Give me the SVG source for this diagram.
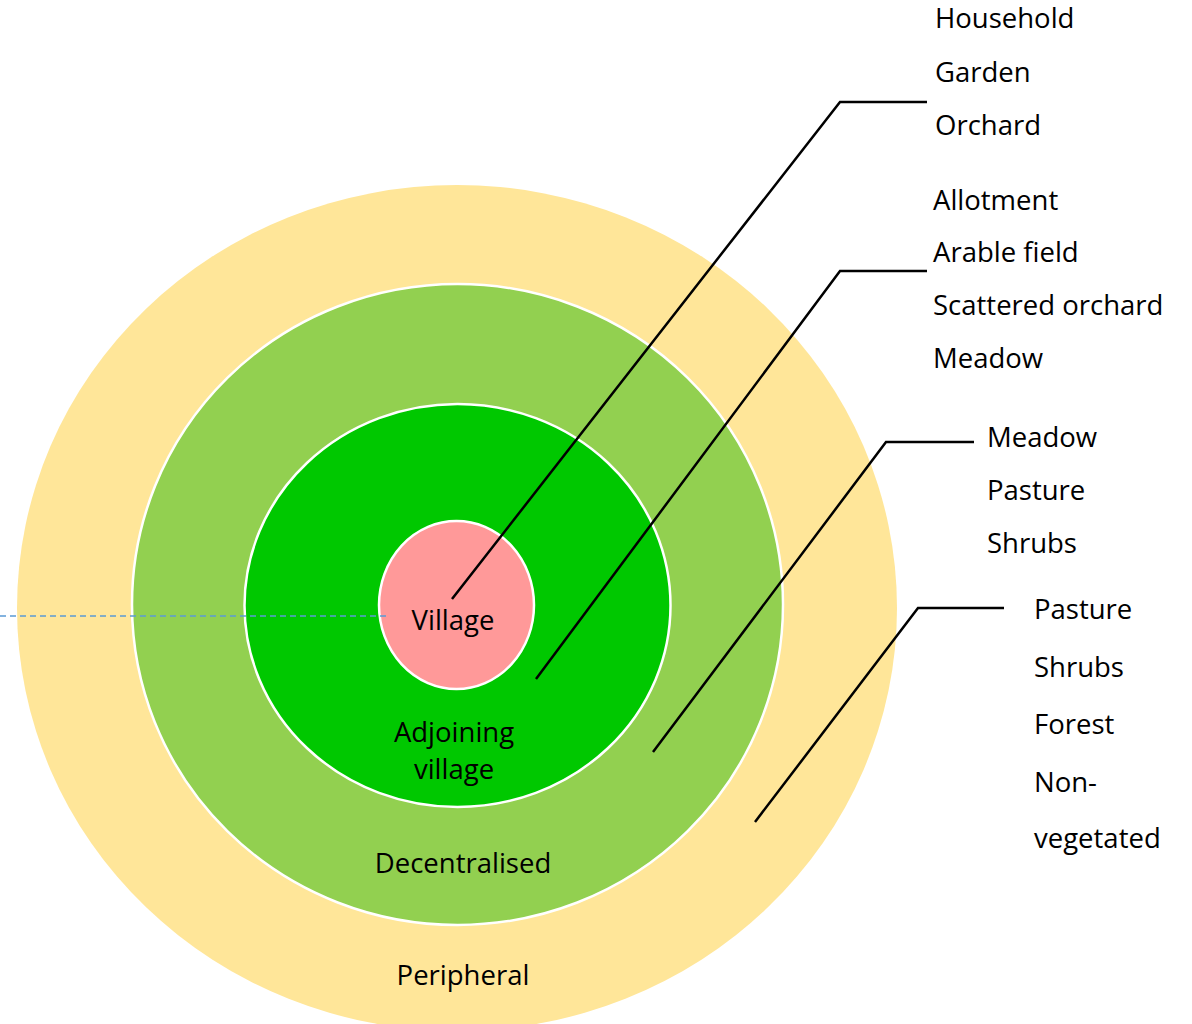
<svg xmlns="http://www.w3.org/2000/svg" width="1192" height="1024" viewBox="0 0 1192 1024">
  <style>
    .ring { stroke: #FFFFFF; stroke-width: 2.5; }
    .lbl { font-family: "Open Sans", "Liberation Sans", sans-serif; font-size: 27.5px; fill: #000000; }
    .mid { text-anchor: middle; }
    .leader { fill: none; stroke: #000000; stroke-width: 2.5; stroke-linejoin: miter; }
  </style>
  <rect width="1192" height="1024" fill="#FFFFFF"/>
  <g id="peripheral">
    <ellipse cx="457" cy="608" rx="440" ry="423" fill="#FFE699"/>
    <text class="lbl mid" x="463" y="985">Peripheral</text>
  </g>
  <g id="decentralised">
    <ellipse class="ring" cx="457.5" cy="604.5" rx="325.5" ry="320.5" fill="#92D050"/>
    <text class="lbl mid" x="463" y="873">Decentralised</text>
  </g>
  <g id="adjoining">
    <ellipse class="ring" cx="457.5" cy="605.5" rx="213" ry="201.5" fill="#00C800"/>
    <text class="lbl mid" x="454" y="742">Adjoining</text>
    <text class="lbl mid" x="454" y="779">village</text>
  </g>
  <g id="village">
    <ellipse class="ring" cx="456.5" cy="605" rx="77.5" ry="84" fill="#FF9999"/>
    <text class="lbl mid" x="453" y="630">Village</text>
  </g>
  <line x1="0" y1="616" x2="390" y2="616" stroke="#5B9BD5" stroke-width="1.5" stroke-dasharray="6,4"/>
  <g id="connectors">
    <polyline class="leader" points="452,599 840,102 927,102"/>
    <polyline class="leader" points="536,679 840,271 927,271"/>
    <polyline class="leader" points="653,752 886,442 974,442"/>
    <polyline class="leader" points="755,822 918,608 1004,608"/>
  </g>
  <g id="list-village">
    <text class="lbl" x="935" y="28">Household</text>
    <text class="lbl" x="935" y="82">Garden</text>
    <text class="lbl" x="935" y="135">Orchard</text>
  </g>
  <g id="list-adjoining">
    <text class="lbl" x="933" y="210">Allotment</text>
    <text class="lbl" x="933" y="262">Arable field</text>
    <text class="lbl" x="933" y="315">Scattered orchard</text>
    <text class="lbl" x="933" y="368">Meadow</text>
  </g>
  <g id="list-decentralised">
    <text class="lbl" x="987" y="447">Meadow</text>
    <text class="lbl" x="987" y="500">Pasture</text>
    <text class="lbl" x="987" y="553">Shrubs</text>
  </g>
  <g id="list-peripheral">
    <text class="lbl" x="1034" y="619">Pasture</text>
    <text class="lbl" x="1034" y="677">Shrubs</text>
    <text class="lbl" x="1034" y="734">Forest</text>
    <text class="lbl" x="1034" y="792">Non-</text>
    <text class="lbl" x="1034" y="848">vegetated</text>
  </g>
</svg>
